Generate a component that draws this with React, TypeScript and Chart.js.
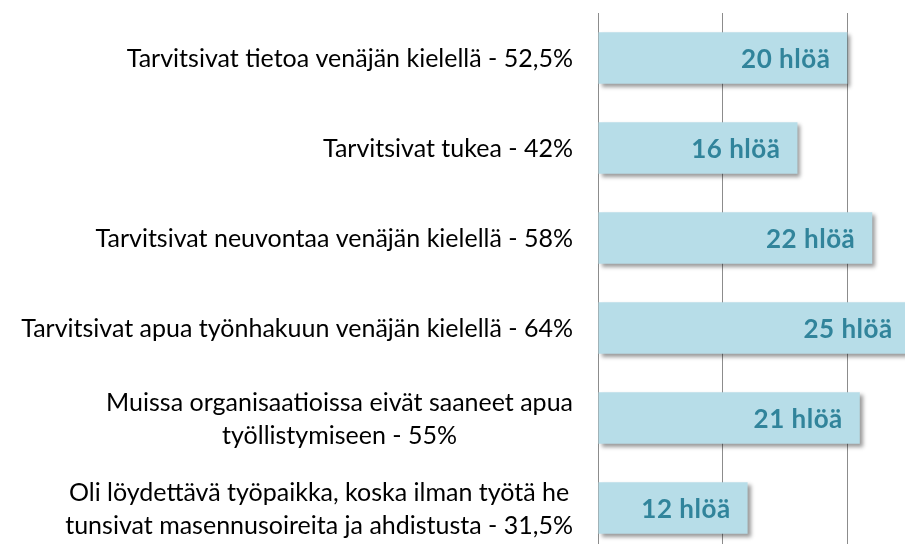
import React, { useEffect, useRef } from "react";
import { Chart, registerables } from "chart.js";

Chart.register(...registerables);

const categories: string[][] = [
  ["Tarvitsivat tietoa venäjän kielellä - 52,5%"],
  ["Tarvitsivat tukea - 42%"],
  ["Tarvitsivat neuvontaa venäjän kielellä - 58%"],
  ["Tarvitsivat apua työnhakuun venäjän kielellä - 64%"],
  ["Muissa organisaatioissa eivät saaneet apua", "työllistymiseen - 55%"],
  ["Oli löydettävä työpaikka, koska ilman työtä he", "tunsivat masennusoireita ja ahdistusta - 31,5%"],
];
const values: number[] = [20, 16, 22, 25, 21, 12];
const valueSuffix = " hlöä";

const LABEL_FONT = "25px Lato";
const VALUE_FONT = "bold 26px Lato";

export default function App() {
  const ref = useRef<HTMLCanvasElement>(null);
  useEffect(() => {
    if (!ref.current) return;
    const shadowPlugin = {
      id: "shadow",
      beforeDatasetsDraw(chart: any) {
        const ctx = chart.ctx;
        ctx.save();
        ctx.shadowColor = "rgba(0,0,0,0.4)";
        ctx.shadowBlur = 4;
        ctx.shadowOffsetX = 3;
        ctx.shadowOffsetY = 3;
      },
      afterDatasetsDraw(chart: any) {
        chart.ctx.restore();
      },
    };
    const labelPlugin = {
      id: "labels",
      afterDraw(chart: any) {
        const ctx = chart.ctx;
        const meta = chart.getDatasetMeta(0);
        const yScale = chart.scales.y;
        ctx.save();
        ctx.font = VALUE_FONT;
        ctx.fillStyle = "#31849B";
        ctx.textAlign = "right";
        ctx.textBaseline = "middle";
        try { (ctx as any).letterSpacing = "0.5px"; } catch (e) {}
        meta.data.forEach((bar: any, i: number) => {
          ctx.fillText(values[i] + valueSuffix, bar.x - 17, bar.y + 2);
        });
        try { (ctx as any).letterSpacing = "0px"; } catch (e) {}
        ctx.font = LABEL_FONT;
        ctx.fillStyle = "#000";
        ctx.textAlign = "center";
        const right = chart.chartArea.left - 25;
        const lh = 33;
        categories.forEach((lines, i) => {
          const yc = yScale.getPixelForValue(i);
          const maxW = Math.max(...lines.map((l) => ctx.measureText(l).width));
          const cx = right - maxW / 2;
          const y0 = yc - ((lines.length - 1) * lh) / 2;
          lines.forEach((l, j) => ctx.fillText(l, cx, y0 + j * lh + 1));
        });
        ctx.restore();
      },
    };
    const chart = new Chart(ref.current, {
      type: "bar",
      data: {
        labels: categories.map((c) => c.join(" ")),
        datasets: [
          {
            data: values,
            backgroundColor: "#B7DDE8",
            borderWidth: 0,
            categoryPercentage: 1,
            barPercentage: 0.57,
          },
        ],
      },
      options: {
        indexAxis: "y",
        animation: false,
        responsive: false,
        maintainAspectRatio: false,
        layout: { padding: { left: 598, top: 13, right: 0, bottom: 0 } },
        plugins: { legend: { display: false }, tooltip: { enabled: false } },
        scales: {
          x: {
            min: 0,
            max: 30,
            ticks: { display: false, stepSize: 10 },
            grid: { color: "#8C8C8C", lineWidth: 1, drawTicks: false },
            border: { display: false },
          },
          y: {
            ticks: { display: false },
            grid: { display: false, drawTicks: false },
            border: { display: true, color: "#8C8C8C", width: 1 },
          },
        },
      },
      plugins: [shadowPlugin, labelPlugin],
    });
    return () => chart.destroy();
  }, []);
  return (
    <div style={{ position: "fixed", left: 0, top: 0, width: 905, height: 544, overflow: "hidden", background: "#fff" }}>
      <canvas ref={ref} width={972} height={553} style={{ display: "block" }} />
    </div>
  );
}
